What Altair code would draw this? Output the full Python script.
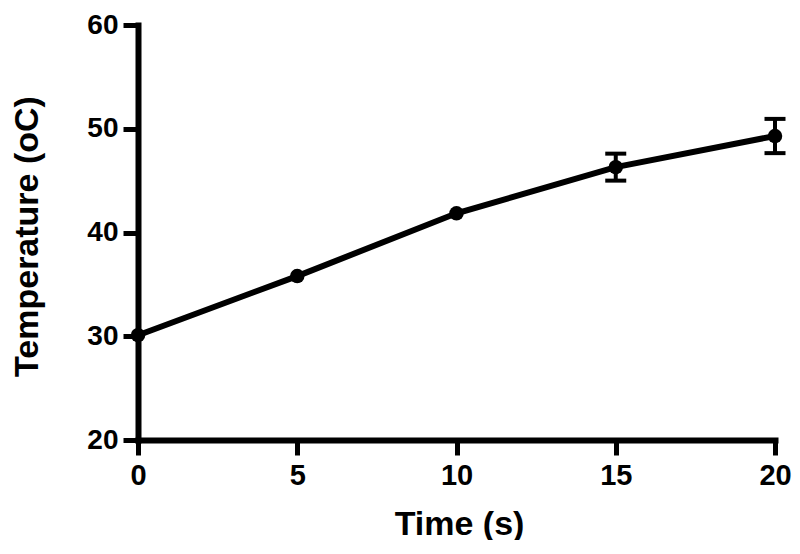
import altair as alt
import pandas as pd

times = [0, 5, 10, 15, 20]
temps = [30.1, 35.8, 41.85, 46.3, 49.3]
errs = [0.0, 0.0, 0.0, 1.3, 1.65]

df = pd.DataFrame({"time": times, "temp": temps, "err": errs})
df["lo"] = df["temp"] - df["err"]
df["hi"] = df["temp"] + df["err"]

FONT = "Liberation Sans"

xscale = alt.Scale(domain=[0, 20], nice=False, zero=False)
yscale = alt.Scale(domain=[20, 60], nice=False, zero=False)

xaxis = alt.Axis(
    values=[0, 5, 10, 15, 20], title="Time (s)", grid=False,
    domainColor="black", domainWidth=6, domainCap="square",
    tickColor="black", tickWidth=5, tickSize=15,
    labelFont=FONT, labelFontSize=29, labelFontWeight="bold", labelColor="black",
    labelPadding=6, labelFlush=False,
    titleFont=FONT, titleFontSize=34, titleFontWeight="bold", titleColor="black",
    titleX=321, titleY=94, titleBaseline="alphabetic",
)
yaxis = alt.Axis(
    values=[20, 30, 40, 50, 60], title="Temperature (oC)", grid=False,
    domainColor="black", domainWidth=6, domainCap="square",
    tickColor="black", tickWidth=5, tickSize=15,
    labelFont=FONT, labelFontSize=28, labelFontWeight="bold", labelColor="black",
    labelPadding=5, labelFlush=False,
    titleFont=FONT, titleFontSize=34, titleFontWeight="bold", titleColor="black",
    titleX=-101, titleY=211, titleBaseline="alphabetic", titleAngle=270,
)

base = alt.Chart(df)

line = base.mark_line(color="black", strokeWidth=6).encode(
    x=alt.X("time:Q", scale=xscale, axis=xaxis),
    y=alt.Y("temp:Q", scale=yscale, axis=yaxis),
)
pts = base.mark_point(filled=True, color="black", size=210, opacity=1).encode(
    x=alt.X("time:Q", scale=xscale),
    y=alt.Y("temp:Q", scale=yscale),
)
errd = base.transform_filter(alt.datum.err > 0)
rules = errd.mark_rule(color="black", strokeWidth=4).encode(
    x=alt.X("time:Q", scale=xscale),
    y=alt.Y("lo:Q", scale=yscale),
    y2="hi:Q",
)
cap_lo = errd.mark_tick(color="black", orient="horizontal", size=21, thickness=4, opacity=1).encode(
    x=alt.X("time:Q", scale=xscale),
    y=alt.Y("lo:Q", scale=yscale),
)
cap_hi = errd.mark_tick(color="black", orient="horizontal", size=21, thickness=4, opacity=1).encode(
    x=alt.X("time:Q", scale=xscale),
    y=alt.Y("hi:Q", scale=yscale),
)

chart = alt.layer(line, rules, cap_lo, cap_hi, pts).properties(
    width=637, height=415,
    autosize=alt.AutoSizeParams(type="none"),
    padding={"left": 130, "top": 17, "right": 17, "bottom": 100},
    background="white",
).configure_view(stroke=None)

chart.save("out.html", embed_options={"renderer": "svg", "actions": False})
